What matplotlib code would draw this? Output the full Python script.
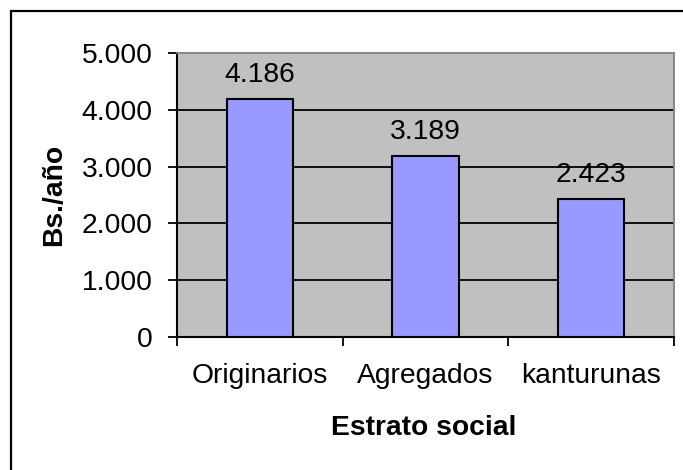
import matplotlib
matplotlib.use("Agg")
import matplotlib.pyplot as plt
from matplotlib.patches import Rectangle

categories = ["Originarios", "Agregados", "kanturunas"]
values = [4186, 3189, 2423]
value_labels = ["4.186", "3.189", "2.423"]
yticks = [0, 1000, 2000, 3000, 4000, 5000]
ytick_labels = ["0", "1.000", "2.000", "3.000", "4.000", "5.000"]

plt.rcParams["font.family"] = ["Liberation Sans", "DejaVu Sans"]
FS = 20.3

W, H = 683, 470
fig = plt.figure(figsize=(W / 100, H / 100), dpi=100)
fig.patch.set_facecolor("white")

left, right, top, bottom = 177, 674, 53, 337
ax = fig.add_axes([left / W, 1 - bottom / H, (right - left) / W, (bottom - top) / H])
ax.set_facecolor("#C0C0C0")

x = list(range(len(categories)))
bars = ax.bar(x, values, width=0.4, color="#9999FF", edgecolor="black", linewidth=1.5, zorder=3)
ax.bar_label(bars, labels=value_labels, padding=8, fontsize=FS, color="black")

ax.set_xlim(-0.5, len(categories) - 0.5)
ax.set_ylim(0, 5000)
for yv in yticks[1:-1]:
    ax.axhline(yv, color="black", linewidth=1.3, zorder=1)

ax.set_yticks(yticks)
ax.set_yticklabels(ytick_labels, fontsize=FS)
ax.tick_params(axis="y", direction="out", length=6.5, width=1.3, pad=11, color="black")

ax.set_xticks([i - 0.5 for i in range(len(categories) + 1)])
ax.set_xticklabels([])
ax.tick_params(axis="x", which="major", direction="out", length=6.5, width=1.3, color="black")
ax.set_xticks(x, minor=True)
ax.set_xticklabels(categories, minor=True, fontsize=FS)
ax.tick_params(axis="x", which="minor", length=0, pad=18.5)

for s in ["left", "bottom"]:
    ax.spines[s].set_color("black")
    ax.spines[s].set_linewidth(1.5)
for s in ["top", "right"]:
    ax.spines[s].set_color("#808080")
    ax.spines[s].set_linewidth(1.3)

ax.set_xlabel("Estrato social", fontsize=FS, fontweight="bold", va="baseline")
ax.xaxis.set_label_coords(0.497, (bottom - 435) / (bottom - top))
ax.set_ylabel("Bs./año", fontsize=FS, fontweight="bold", va="center")
ax.yaxis.set_label_coords((54 - left) / (right - left), 0.5)

fig.patches.append(Rectangle((11 / W, -0.2), 1.5, 1.2 - 11 / H, fill=False,
                             edgecolor="black", linewidth=1.6,
                             transform=fig.transFigure, clip_on=False))

fig.savefig("out.png", dpi=100)
